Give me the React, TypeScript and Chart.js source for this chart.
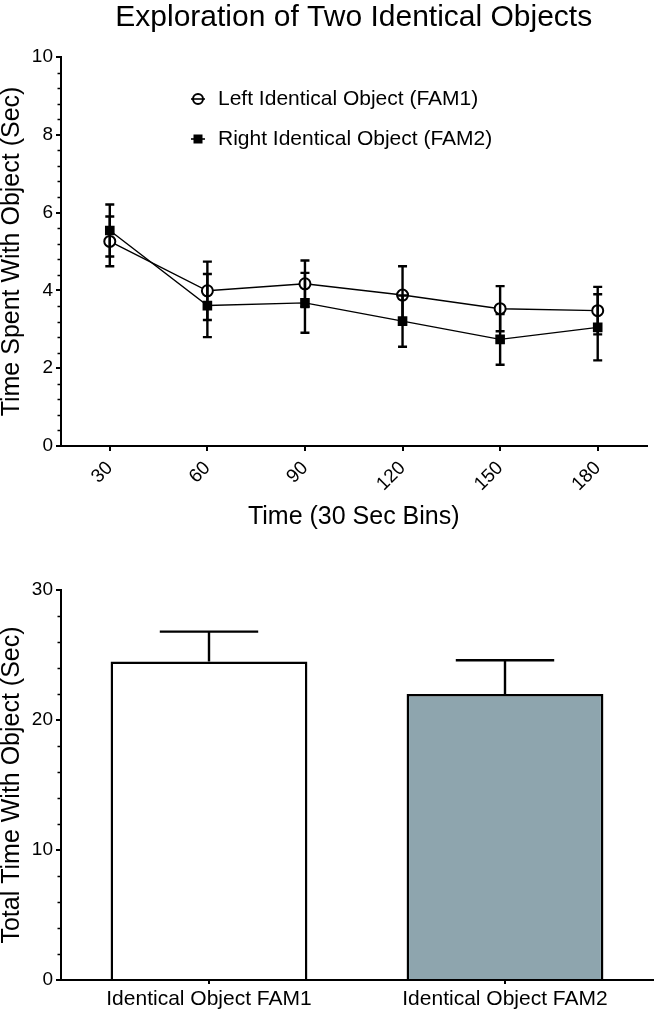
import React, { useEffect, useRef } from 'react';
import { Chart, registerables } from 'chart.js';

Chart.register(...registerables);

const FONT = "'Liberation Sans', Arial, Helvetica, sans-serif";
Chart.defaults.font.family = FONT;
Chart.defaults.color = '#000';

// ---- Top chart data ----
const timeBins = ['30', '60', '90', '120', '150', '180'];
const fam1Mean = [5.26, 3.99, 4.17, 3.88, 3.53, 3.48];
const fam1Sem = [0.64, 0.75, 0.6, 0.74, 0.58, 0.61];
const fam2Mean = [5.54, 3.61, 3.68, 3.21, 2.74, 3.05];
const fam2Sem = [0.67, 0.81, 0.77, 0.66, 0.65, 0.85];
const lineLabels = ['Left Identical Object (FAM1)', 'Right Identical Object (FAM2)'];

// ---- Bottom chart data ----
const barCategories = ['Identical Object FAM1', 'Identical Object FAM2'];
const barMeans = [24.5, 22.0];
const barSems = [2.3, 2.6];
const barColors = ['#FFFFFF', '#8EA5AE'];

const lineSems = [fam1Sem, fam2Sem];

function minorTicksPlugin(step: number, major: number) {
  return {
    id: 'minorTicks',
    afterDraw(chart: any) {
      const y = chart.scales.y;
      const ctx = chart.ctx;
      const x0 = chart.chartArea.left;
      ctx.save();
      ctx.strokeStyle = '#000';
      ctx.lineWidth = 1.5;
      for (let k = 1; k * step < y.max - 1e-9; k++) {
        const v = k * step;
        const r = v / major;
        if (Math.abs(r - Math.round(r)) < 1e-6) continue;
        const py = Math.round(y.getPixelForValue(v)) + 0.5;
        ctx.beginPath();
        ctx.moveTo(x0 - 3.5, py);
        ctx.lineTo(x0, py);
        ctx.stroke();
      }
      ctx.restore();
    },
  };
}

const lineErrorPlugin = {
  id: 'lineErrors',
  afterDatasetsDraw(chart: any) {
    const ctx = chart.ctx;
    const y = chart.scales.y;
    ctx.save();
    ctx.strokeStyle = '#000';
    ctx.lineWidth = 2.4;
    chart.data.datasets.forEach((ds: any, di: number) => {
      const meta = chart.getDatasetMeta(di);
      meta.data.forEach((pt: any, i: number) => {
        const v = ds.data[i];
        const e = lineSems[di][i];
        const yt = y.getPixelForValue(v + e);
        const yb = y.getPixelForValue(v - e);
        const x = pt.x;
        const w = 4.5;
        ctx.beginPath();
        ctx.moveTo(x, yt);
        ctx.lineTo(x, yb);
        ctx.moveTo(x - w, yt);
        ctx.lineTo(x + w, yt);
        ctx.moveTo(x - w, yb);
        ctx.lineTo(x + w, yb);
        ctx.stroke();
      });
    });
    ctx.restore();
  },
};

const insideLegendPlugin = {
  id: 'insideLegend',
  afterDraw(chart: any) {
    const ctx = chart.ctx;
    const area = chart.chartArea;
    chart.data.datasets.forEach((ds: any, i: number) => {
      const x = area.left + 137;
      const y = area.top + 42 + i * 40;
      ctx.save();
      ctx.strokeStyle = '#000';
      if (ds.pointStyle === 'circle') {
        ctx.beginPath();
        ctx.arc(x, y, 5, 0, Math.PI * 2);
        ctx.fillStyle = '#fff';
        ctx.fill();
        ctx.lineWidth = 2;
        ctx.stroke();
      } else {
        ctx.fillStyle = '#000';
        ctx.fillRect(x - 4.5, y - 4.5, 9, 9);
      }
      ctx.lineWidth = 1.6;
      ctx.beginPath();
      ctx.moveTo(x - 7, y);
      ctx.lineTo(x + 7, y);
      ctx.stroke();
      ctx.fillStyle = '#000';
      ctx.font = `21px ${FONT}`;
      ctx.textBaseline = 'middle';
      ctx.textAlign = 'left';
      ctx.fillText(ds.label, x + 20, y);
      ctx.restore();
    });
  },
};

const barErrorPlugin = {
  id: 'barErrors',
  afterDatasetsDraw(chart: any) {
    const ctx = chart.ctx;
    const y = chart.scales.y;
    const meta = chart.getDatasetMeta(0);
    ctx.save();
    ctx.strokeStyle = '#000';
    ctx.lineWidth = 2.4;
    meta.data.forEach((bar: any, i: number) => {
      const v = barMeans[i];
      const yt = y.getPixelForValue(v + barSems[i]);
      const yb = y.getPixelForValue(v);
      const half = bar.width / 4;
      ctx.beginPath();
      ctx.moveTo(bar.x, yb);
      ctx.lineTo(bar.x, yt);
      ctx.moveTo(bar.x - half, yt);
      ctx.lineTo(bar.x + half, yt);
      ctx.stroke();
    });
    ctx.restore();
  },
};

const axisCommon = {
  border: { color: '#000', width: 2 },
};

function topConfig(): any {
  return {
    type: 'line',
    data: {
      labels: timeBins,
      datasets: [
        {
          label: lineLabels[0],
          data: fam1Mean,
          borderColor: '#000',
          borderWidth: 1.4,
          pointStyle: 'circle',
          pointRadius: 5.5,
          pointBackgroundColor: '#fff',
          pointBorderColor: '#000',
          pointBorderWidth: 2,
          fill: false,
          tension: 0,
        },
        {
          label: lineLabels[1],
          data: fam2Mean,
          borderColor: '#000',
          borderWidth: 1.4,
          pointStyle: 'rect',
          pointRadius: 6.8,
          pointBackgroundColor: '#000',
          pointBorderColor: '#000',
          pointBorderWidth: 0,
          fill: false,
          tension: 0,
        },
      ],
    },
    options: {
      responsive: false,
      animation: false,
      layout: { padding: { left: 0, right: 4, top: 0, bottom: 0 } },
      plugins: {
        legend: { display: false },
        tooltip: { enabled: false },
        title: {
          display: true,
          fullSize: false,
          text: 'Exploration of Two Identical Objects',
          color: '#000',
          font: { size: 30, weight: 'normal', family: FONT },
          padding: { top: 0, bottom: 21 },
        },
      },
      scales: {
        x: {
          type: 'category',
          offset: true,
          ...axisCommon,
          grid: { drawOnChartArea: false, color: '#000', lineWidth: 2, tickLength: 5 },
          ticks: { color: '#000', font: { size: 19 }, maxRotation: 45, minRotation: 45, padding: 6 },
          title: {
            display: true,
            text: 'Time (30 Sec Bins)',
            color: '#000',
            font: { size: 25 },
            padding: { top: 0, bottom: 8 },
          },
          afterFit(s: any) {
            s.height = 94;
          },
        },
        y: {
          min: 0,
          max: 10,
          ...axisCommon,
          grid: { drawOnChartArea: false, color: '#000', lineWidth: 2, tickLength: 5 },
          ticks: { stepSize: 2, color: '#000', font: { size: 19 }, padding: 3 },
          title: {
            display: true,
            text: 'Time Spent With Object (Sec)',
            color: '#000',
            font: { size: 25, lineHeight: 1 },
            padding: { top: 0, bottom: 0 },
          },
          afterFit(s: any) {
            s.width = 61;
          },
        },
      },
    },
    plugins: [lineErrorPlugin, minorTicksPlugin(0.4, 2), insideLegendPlugin],
  };
}

function barConfig(): any {
  return {
    type: 'bar',
    data: {
      labels: barCategories,
      datasets: [
        {
          data: barMeans,
          backgroundColor: barColors,
          borderColor: '#000',
          borderWidth: 2.5,
          barPercentage: 0.665,
          categoryPercentage: 1,
        },
      ],
    },
    options: {
      responsive: false,
      animation: false,
      layout: { padding: { left: 0, right: 1, top: 30, bottom: 0 } },
      plugins: {
        legend: { display: false },
        tooltip: { enabled: false },
      },
      scales: {
        x: {
          ...axisCommon,
          grid: { drawOnChartArea: false, color: '#000', lineWidth: 2, tickLength: 4, offset: false },
          ticks: { color: '#000', font: { size: 21 }, padding: 3, maxRotation: 0 },
          afterFit(s: any) {
            s.height = 32;
          },
        },
        y: {
          min: 0,
          max: 30,
          ...axisCommon,
          grid: { drawOnChartArea: false, color: '#000', lineWidth: 2, tickLength: 5 },
          ticks: { stepSize: 10, color: '#000', font: { size: 19 }, padding: 3 },
          title: {
            display: true,
            text: 'Total Time With Object (Sec)',
            color: '#000',
            font: { size: 25, lineHeight: 1 },
            padding: { top: 0, bottom: 0 },
          },
          afterFit(s: any) {
            s.width = 61;
          },
        },
      },
    },
    plugins: [barErrorPlugin, minorTicksPlugin(2, 10)],
  };
}

export default function App() {
  const topRef = useRef<HTMLCanvasElement>(null);
  const botRef = useRef<HTMLCanvasElement>(null);

  useEffect(() => {
    const c1 = new Chart(topRef.current as HTMLCanvasElement, topConfig());
    const c2 = new Chart(botRef.current as HTMLCanvasElement, barConfig());
    return () => {
      c1.destroy();
      c2.destroy();
    };
  }, []);

  return (
    <div style={{ position: 'absolute', left: 0, top: 0, width: 654, height: 1012, background: '#fff' }}>
      <canvas ref={topRef} width={654} height={540} style={{ position: 'absolute', left: 0, top: 0, display: 'block' }} />
      <canvas ref={botRef} width={654} height={452} style={{ position: 'absolute', left: 0, top: 560, display: 'block' }} />
    </div>
  );
}
